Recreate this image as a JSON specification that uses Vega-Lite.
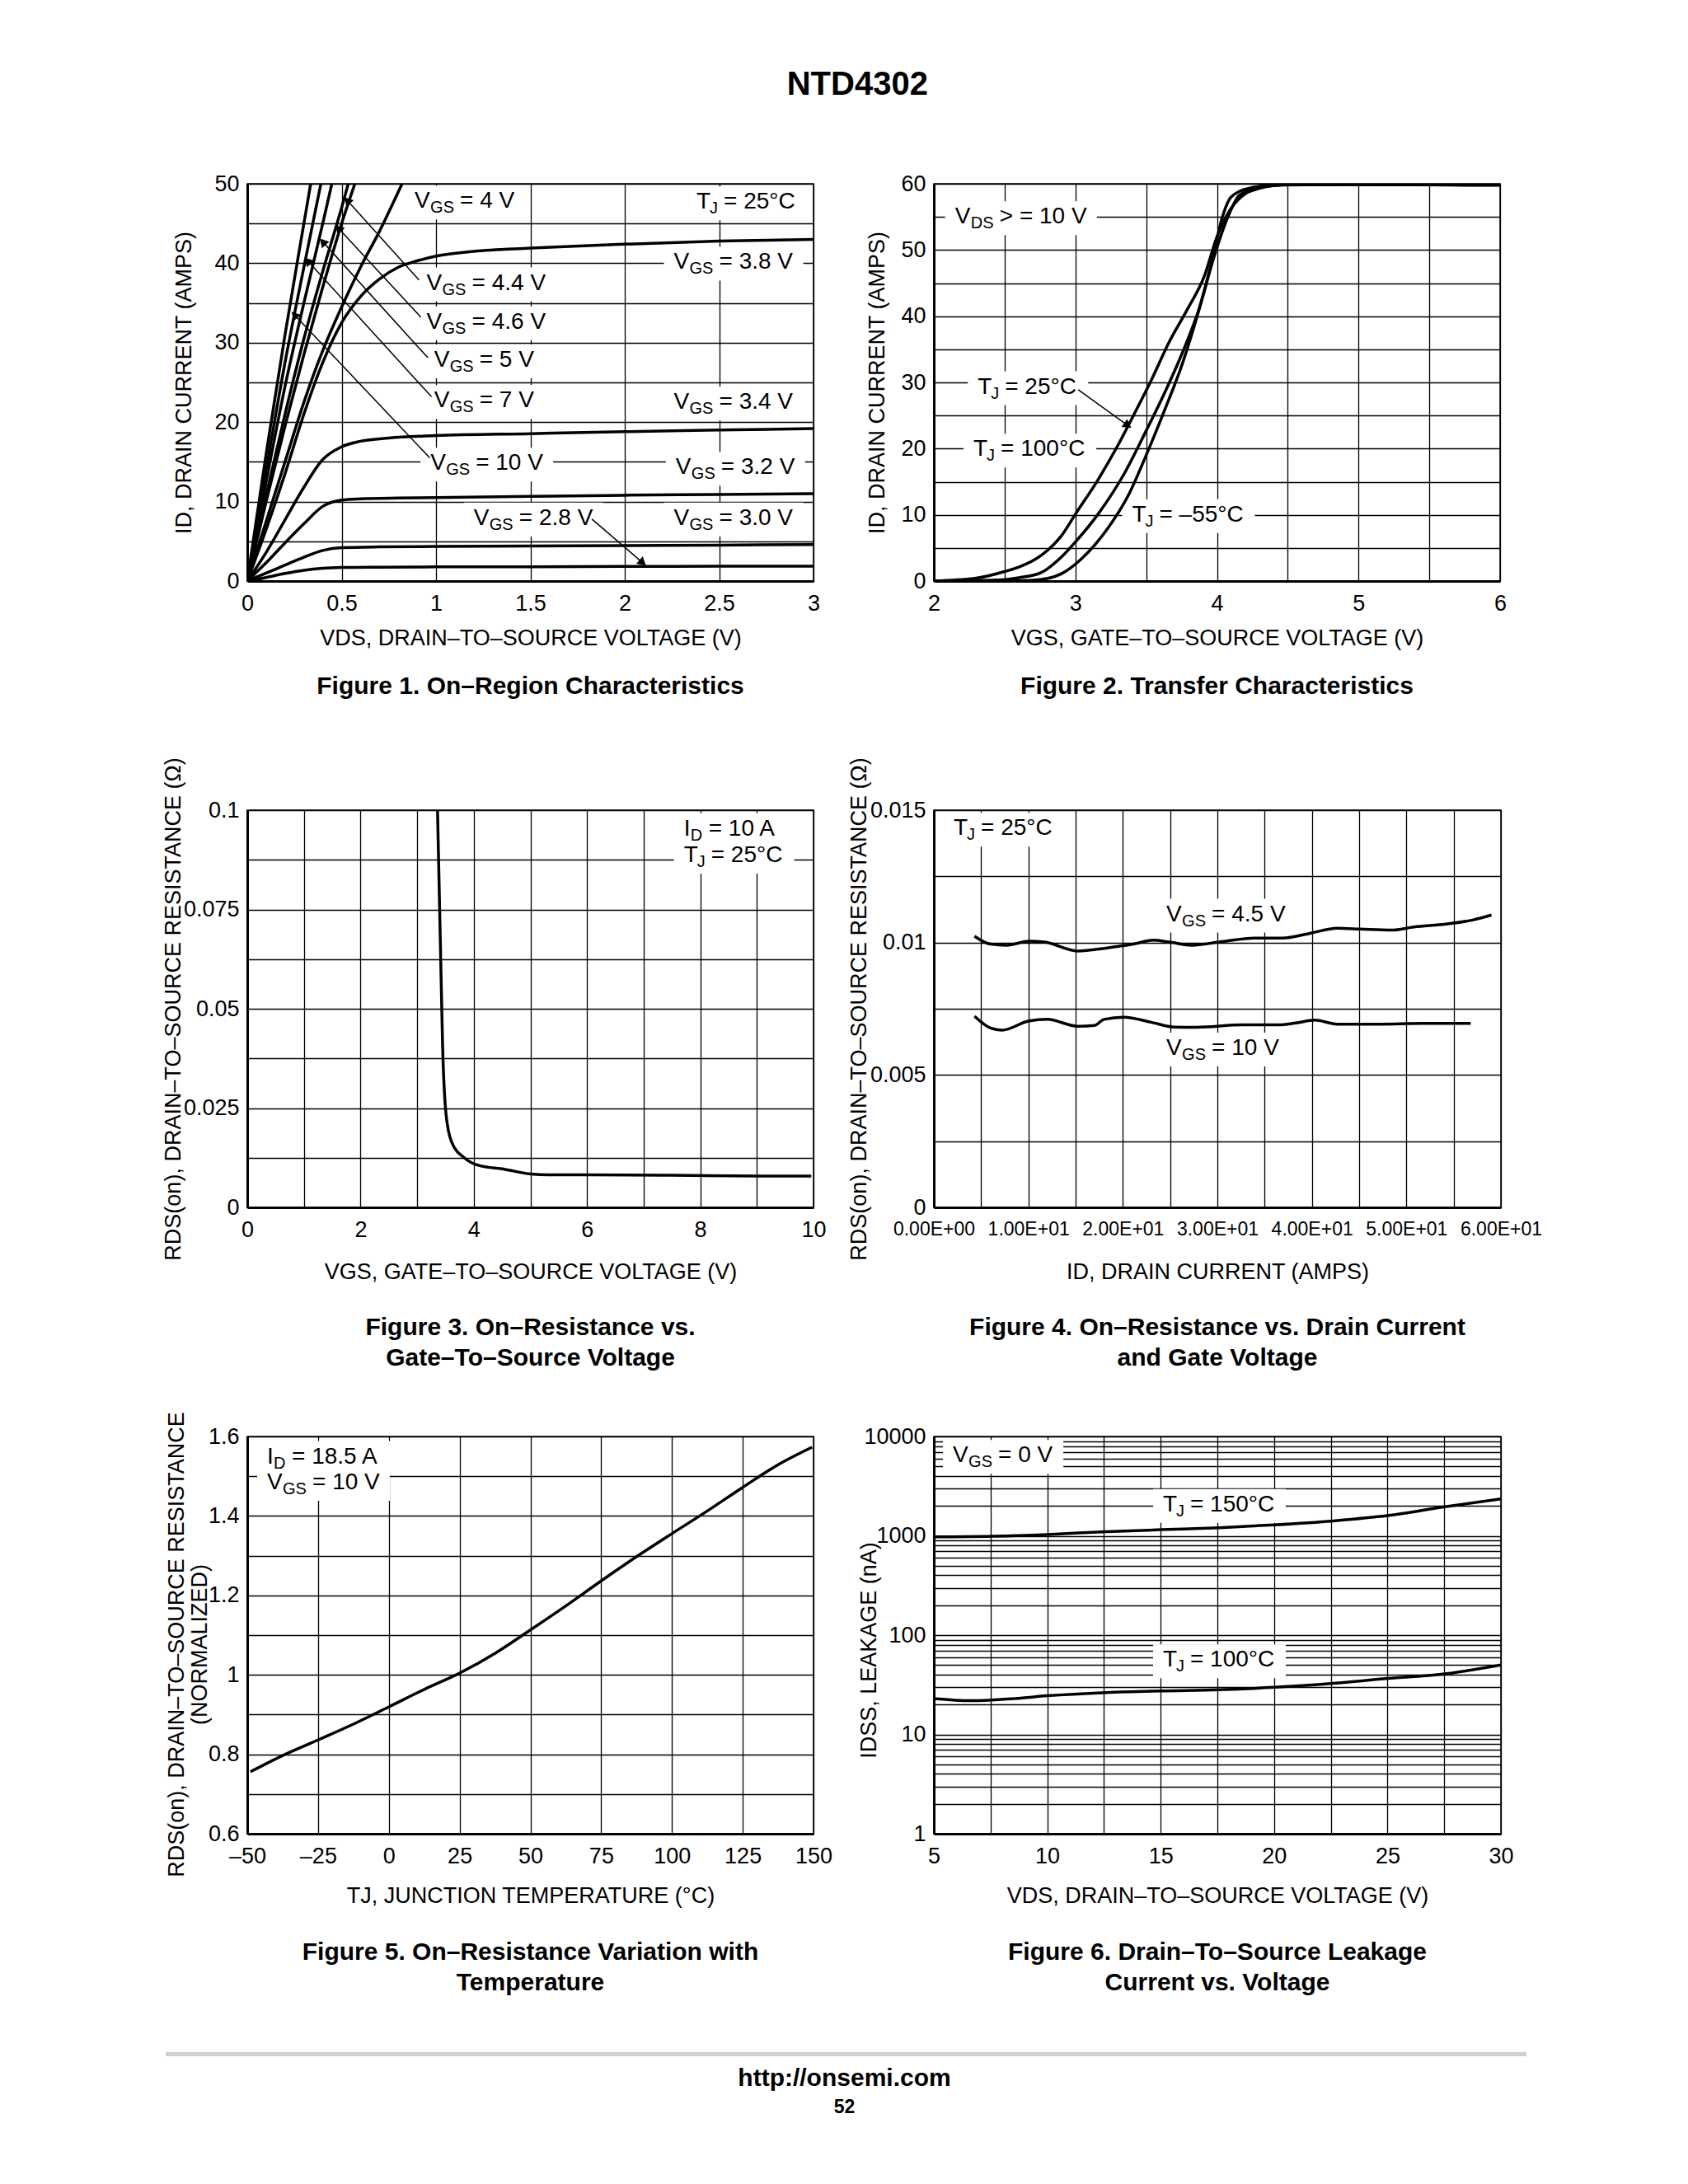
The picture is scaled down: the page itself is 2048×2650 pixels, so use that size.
{
"$schema":"https://vega.github.io/schema/vega-lite/v6.json",
"background":"white",
"padding":{"left":195,"top":83,"right":10,"bottom":10},
"title":{"text":"NTD4302","fontSize":40,"anchor":"middle","offset":85,"dx":7},
"spacing":68,
"datasets":{
"f1":[
{"s":"2.8","x":0,"y":0},{"s":"2.8","x":0.1,"y":0.45},{"s":"2.8","x":0.2,"y":0.95},{"s":"2.8","x":0.3,"y":1.35},{"s":"2.8","x":0.4,"y":1.6},{"s":"2.8","x":0.5,"y":1.7},{"s":"2.8","x":0.7,"y":1.75},{"s":"2.8","x":1,"y":1.78},{"s":"2.8","x":1.5,"y":1.8},{"s":"2.8","x":2,"y":1.83},{"s":"2.8","x":2.5,"y":1.86},{"s":"2.8","x":3,"y":1.88},
{"s":"3.0","x":0,"y":0},{"s":"3.0","x":0.1,"y":1.0},{"s":"3.0","x":0.2,"y":2.0},{"s":"3.0","x":0.3,"y":3.0},{"s":"3.0","x":0.4,"y":3.85},{"s":"3.0","x":0.5,"y":4.2},{"s":"3.0","x":0.7,"y":4.3},{"s":"3.0","x":1,"y":4.35},{"s":"3.0","x":1.5,"y":4.4},{"s":"3.0","x":2,"y":4.45},{"s":"3.0","x":2.5,"y":4.52},{"s":"3.0","x":3,"y":4.6},
{"s":"3.2","x":0,"y":0},{"s":"3.2","x":0.1,"y":2.3},{"s":"3.2","x":0.2,"y":4.8},{"s":"3.2","x":0.3,"y":7.2},{"s":"3.2","x":0.4,"y":9.4},{"s":"3.2","x":0.5,"y":10.2},{"s":"3.2","x":0.6,"y":10.35},{"s":"3.2","x":0.8,"y":10.45},{"s":"3.2","x":1,"y":10.5},{"s":"3.2","x":1.5,"y":10.65},{"s":"3.2","x":2,"y":10.8},{"s":"3.2","x":2.5,"y":10.9},{"s":"3.2","x":3,"y":11.0},
{"s":"3.4","x":0,"y":0},{"s":"3.4","x":0.1,"y":3.6},{"s":"3.4","x":0.2,"y":7.7},{"s":"3.4","x":0.3,"y":11.8},{"s":"3.4","x":0.4,"y":15.3},{"s":"3.4","x":0.5,"y":16.9},{"s":"3.4","x":0.6,"y":17.6},{"s":"3.4","x":0.75,"y":18.0},{"s":"3.4","x":1,"y":18.3},{"s":"3.4","x":1.5,"y":18.55},{"s":"3.4","x":2,"y":18.8},{"s":"3.4","x":2.5,"y":19.0},{"s":"3.4","x":3,"y":19.2},
{"s":"3.8","x":0,"y":0},{"s":"3.8","x":0.1,"y":6.5},{"s":"3.8","x":0.2,"y":13.5},{"s":"3.8","x":0.3,"y":21},{"s":"3.8","x":0.4,"y":27.5},{"s":"3.8","x":0.5,"y":32.5},{"s":"3.8","x":0.6,"y":35.8},{"s":"3.8","x":0.7,"y":38},{"s":"3.8","x":0.8,"y":39.5},{"s":"3.8","x":0.9,"y":40.3},{"s":"3.8","x":1,"y":40.9},{"s":"3.8","x":1.2,"y":41.5},{"s":"3.8","x":1.5,"y":41.9},{"s":"3.8","x":2,"y":42.4},{"s":"3.8","x":2.5,"y":42.8},{"s":"3.8","x":3,"y":43.0},
{"s":"4","x":0,"y":0},{"s":"4","x":0.1,"y":7.5},{"s":"4","x":0.2,"y":15},{"s":"4","x":0.3,"y":22.5},{"s":"4","x":0.4,"y":29},{"s":"4","x":0.5,"y":34.5},{"s":"4","x":0.6,"y":39.5},{"s":"4","x":0.7,"y":44},{"s":"4","x":0.82,"y":50},
{"s":"4.4","x":0,"y":0},{"s":"4.4","x":0.1,"y":10},{"s":"4.4","x":0.2,"y":19.5},{"s":"4.4","x":0.3,"y":28.5},{"s":"4.4","x":0.4,"y":37},{"s":"4.4","x":0.5,"y":45},{"s":"4.4","x":0.57,"y":50},
{"s":"4.6","x":0,"y":0},{"s":"4.6","x":0.1,"y":10.8},{"s":"4.6","x":0.2,"y":21},{"s":"4.6","x":0.3,"y":30.5},{"s":"4.6","x":0.4,"y":39},{"s":"4.6","x":0.5,"y":47},{"s":"4.6","x":0.535,"y":50},
{"s":"5","x":0,"y":0},{"s":"5","x":0.1,"y":12.5},{"s":"5","x":0.2,"y":24.5},{"s":"5","x":0.3,"y":35},{"s":"5","x":0.4,"y":45},{"s":"5","x":0.448,"y":50},
{"s":"7","x":0,"y":0},{"s":"7","x":0.1,"y":14},{"s":"7","x":0.2,"y":27.5},{"s":"7","x":0.3,"y":39.5},{"s":"7","x":0.39,"y":50},
{"s":"10","x":0,"y":0},{"s":"10","x":0.1,"y":16},{"s":"10","x":0.2,"y":31},{"s":"10","x":0.3,"y":45},{"s":"10","x":0.336,"y":50}
],
"f1lab":[
{"x":0.887,"y":47.8,"sym":"V","sub":"GS","rest":"= 4 V","full":"VGS = 4 V"},
{"x":2.38,"y":47.7,"sym":"T","sub":"J","rest":"= 25°C","full":"TJ = 25°C"},
{"x":2.26,"y":40.1,"sym":"V","sub":"GS","rest":"= 3.8 V","full":"VGS = 3.8 V"},
{"x":0.95,"y":37.5,"sym":"V","sub":"GS","rest":"= 4.4 V","full":"VGS = 4.4 V"},
{"x":0.95,"y":32.6,"sym":"V","sub":"GS","rest":"= 4.6 V","full":"VGS = 4.6 V"},
{"x":0.99,"y":27.8,"sym":"V","sub":"GS","rest":"= 5 V","full":"VGS = 5 V"},
{"x":0.99,"y":22.7,"sym":"V","sub":"GS","rest":"= 7 V","full":"VGS = 7 V"},
{"x":2.26,"y":22.5,"sym":"V","sub":"GS","rest":"= 3.4 V","full":"VGS = 3.4 V"},
{"x":0.97,"y":14.8,"sym":"V","sub":"GS","rest":"= 10 V","full":"VGS = 10 V"},
{"x":2.27,"y":14.3,"sym":"V","sub":"GS","rest":"= 3.2 V","full":"VGS = 3.2 V"},
{"x":1.2,"y":7.9,"sym":"V","sub":"GS","rest":"= 2.8 V","full":"VGS = 2.8 V"},
{"x":2.26,"y":7.9,"sym":"V","sub":"GS","rest":"= 3.0 V","full":"VGS = 3.0 V"}
],
"f1arr":[
{"n":"4.4","x":0.53,"y":47.9,"x2":0.91,"y2":37.9},
{"n":"4.6","x":0.483,"y":44.4,"x2":0.92,"y2":33.2},
{"n":"5","x":0.4,"y":42.7,"x2":0.957,"y2":28.1},
{"n":"7","x":0.32,"y":40.3,"x2":0.976,"y2":23.2},
{"n":"10","x":0.25,"y":33.5,"x2":0.967,"y2":15.5},
{"n":"2.8","x":2.095,"y":2.3,"x2":1.826,"y2":7.8}
],
"f2":[
{"s":"100","x":2,"y":0},{"s":"100","x":2.29,"y":0.4},{"s":"100","x":2.51,"y":1.5},{"s":"100","x":2.6,"y":2.1},{"s":"100","x":2.76,"y":3.9},{"s":"100","x":2.9,"y":6.8},{"s":"100","x":3.0,"y":10.1},{"s":"100","x":3.16,"y":15.3},{"s":"100","x":3.29,"y":20.1},{"s":"100","x":3.41,"y":25.0},{"s":"100","x":3.54,"y":30.5},{"s":"100","x":3.66,"y":36.0},{"s":"100","x":3.79,"y":41.0},{"s":"100","x":3.91,"y":46.0},{"s":"100","x":4.0,"y":52.0},{"s":"100","x":4.1,"y":56.3},{"s":"100","x":4.2,"y":58.5},{"s":"100","x":4.3,"y":59.3},{"s":"100","x":4.47,"y":59.8},{"s":"100","x":5,"y":59.9},{"s":"100","x":6,"y":59.8},
{"s":"25","x":2,"y":0},{"s":"25","x":2.45,"y":0.15},{"s":"25","x":2.6,"y":0.5},{"s":"25","x":2.76,"y":1.3},{"s":"25","x":2.9,"y":3.6},{"s":"25","x":3.0,"y":5.9},{"s":"25","x":3.16,"y":10.1},{"s":"25","x":3.35,"y":16.4},{"s":"25","x":3.5,"y":22.7},{"s":"25","x":3.63,"y":28.4},{"s":"25","x":3.76,"y":34.7},{"s":"25","x":3.88,"y":41.5},{"s":"25","x":3.97,"y":48.3},{"s":"25","x":4.07,"y":54.6},{"s":"25","x":4.16,"y":58.3},{"s":"25","x":4.32,"y":59.6},{"s":"25","x":4.63,"y":59.9},{"s":"25","x":6,"y":59.8},
{"s":"-55","x":2,"y":0},{"s":"-55","x":2.6,"y":0.05},{"s":"-55","x":2.76,"y":0.25},{"s":"-55","x":2.91,"y":1.2},{"s":"-55","x":3.04,"y":3.3},{"s":"-55","x":3.23,"y":8.0},{"s":"-55","x":3.38,"y":13.2},{"s":"-55","x":3.5,"y":19.0},{"s":"-55","x":3.63,"y":25.8},{"s":"-55","x":3.76,"y":33.1},{"s":"-55","x":3.88,"y":41.5},{"s":"-55","x":3.97,"y":48.8},{"s":"-55","x":4.04,"y":55.1},{"s":"-55","x":4.1,"y":58.0},{"s":"-55","x":4.22,"y":59.3},{"s":"-55","x":4.47,"y":59.9},{"s":"-55","x":6,"y":59.8}
],
"f2lab":[
{"x":2.15,"y":55,"sym":"V","sub":"DS","rest":"> = 10 V","full":"VDS > = 10 V"},
{"x":2.31,"y":29.3,"sym":"T","sub":"J","rest":"= 25°C","full":"TJ = 25°C"},
{"x":2.28,"y":19.9,"sym":"T","sub":"J","rest":"= 100°C","full":"TJ = 100°C"},
{"x":3.4,"y":10.0,"sym":"T","sub":"J","rest":"= –55°C","full":"TJ = –55°C"}
],
"f2arr":[{"n":"25","x":3.37,"y":23.5,"x2":3.02,"y2":28.9}],
"f3":[
{"x":3.36,"y":0.1},{"x":3.41,"y":0.0668},{"x":3.45,"y":0.0406},{"x":3.51,"y":0.0235},{"x":3.61,"y":0.0164},{"x":3.84,"y":0.0124},{"x":4.08,"y":0.0106},{"x":4.54,"y":0.0096},{"x":5.01,"y":0.0084},{"x":5.32,"y":0.0082},{"x":6.03,"y":0.0082},{"x":7.5,"y":0.0081},{"x":9.06,"y":0.0079},{"x":9.96,"y":0.0079}
],
"f3lab":[
{"x":7.71,"y":0.0953,"sym":"I","sub":"D","rest":"= 10 A","full":"ID = 10 A"},
{"x":7.71,"y":0.0886,"sym":"T","sub":"J","rest":"= 25°C","full":"TJ = 25°C"}
],
"f4":[
{"s":"4.5","x":4.3,"y":0.01024},{"s":"4.5","x":6.0,"y":0.00994},{"s":"4.5","x":7.7,"y":0.0099},{"s":"4.5","x":10.07,"y":0.01005},{"s":"4.5","x":11.7,"y":0.01002},{"s":"4.5","x":15.2,"y":0.00968},{"s":"4.5","x":18.2,"y":0.00979},{"s":"4.5","x":21.1,"y":0.00994},{"s":"4.5","x":23.2,"y":0.01009},{"s":"4.5","x":24.9,"y":0.01002},{"s":"4.5","x":27.3,"y":0.0099},{"s":"4.5","x":30.2,"y":0.01002},{"s":"4.5","x":34.0,"y":0.01017},{"s":"4.5","x":36.9,"y":0.01017},{"s":"4.5","x":39.8,"y":0.01035},{"s":"4.5","x":42.7,"y":0.01054},{"s":"4.5","x":45.1,"y":0.01051},{"s":"4.5","x":48.4,"y":0.01047},{"s":"4.5","x":50.8,"y":0.01059},{"s":"4.5","x":54.2,"y":0.0107},{"s":"4.5","x":57.0,"y":0.01085},{"s":"4.5","x":59.0,"y":0.01104},
{"s":"10","x":4.3,"y":0.00722},{"s":"10","x":6.0,"y":0.00677},{"s":"10","x":7.2,"y":0.00669},{"s":"10","x":10.07,"y":0.00704},{"s":"10","x":12.0,"y":0.0071},{"s":"10","x":15.2,"y":0.00684},{"s":"10","x":17.0,"y":0.00687},{"s":"10","x":18.0,"y":0.0071},{"s":"10","x":20.1,"y":0.00718},{"s":"10","x":23.0,"y":0.00699},{"s":"10","x":25.4,"y":0.00681},{"s":"10","x":27.8,"y":0.0068},{"s":"10","x":32.6,"y":0.00689},{"s":"10","x":36.4,"y":0.00689},{"s":"10","x":38.3,"y":0.00696},{"s":"10","x":40.3,"y":0.00707},{"s":"10","x":42.7,"y":0.00692},{"s":"10","x":47.0,"y":0.00692},{"s":"10","x":51.8,"y":0.00695},{"s":"10","x":56.8,"y":0.00695}
],
"f4lab":[
{"x":2.1,"y":0.01431,"sym":"T","sub":"J","rest":"= 25°C","full":"TJ = 25°C"},
{"x":24.6,"y":0.01106,"sym":"V","sub":"GS","rest":"= 4.5 V","full":"VGS = 4.5 V"},
{"x":24.6,"y":0.00601,"sym":"V","sub":"GS","rest":"= 10 V","full":"VGS = 10 V"}
],
"f5":[
{"x":-48.9,"y":0.756},{"x":-37.2,"y":0.798},{"x":-24.7,"y":0.837},{"x":-12.2,"y":0.877},{"x":0.2,"y":0.92},{"x":12.7,"y":0.964},{"x":25.2,"y":1.005},{"x":37.7,"y":1.055},{"x":50.2,"y":1.114},{"x":62.6,"y":1.174},{"x":75.1,"y":1.237},{"x":87.6,"y":1.298},{"x":100.1,"y":1.356},{"x":112.6,"y":1.413},{"x":125,"y":1.472},{"x":137.5,"y":1.529},{"x":149.5,"y":1.573}
],
"f5lab":[
{"x":-43,"y":1.549,"sym":"I","sub":"D","rest":"= 18.5 A","full":"ID = 18.5 A"},
{"x":-43,"y":1.484,"sym":"V","sub":"GS","rest":"= 10 V","full":"VGS = 10 V"}
],
"f6":[
{"s":"150","x":5,"y":975},{"s":"150","x":7.6,"y":990},{"s":"150","x":10,"y":1031},{"s":"150","x":12.6,"y":1100},{"s":"150","x":15,"y":1152},{"s":"150","x":17.6,"y":1207},{"s":"150","x":20,"y":1289},{"s":"150","x":22.6,"y":1413},{"s":"150","x":25,"y":1594},{"s":"150","x":27.6,"y":1972},{"s":"150","x":30,"y":2354},
{"s":"100","x":5,"y":23},{"s":"100","x":6.6,"y":21.9},{"s":"100","x":8.6,"y":23},{"s":"100","x":10,"y":24.5},{"s":"100","x":12.6,"y":26.4},{"s":"100","x":15,"y":27.4},{"s":"100","x":17.6,"y":28.2},{"s":"100","x":20,"y":29.8},{"s":"100","x":22.6,"y":32.7},{"s":"100","x":25,"y":36.6},{"s":"100","x":27.6,"y":40.9},{"s":"100","x":30,"y":50.1}
],
"f6lab":[
{"x":5.84,"y":6410,"sym":"V","sub":"GS","rest":"= 0 V","full":"VGS = 0 V"},
{"x":15.1,"y":2060,"sym":"T","sub":"J","rest":"= 150°C","full":"TJ = 150°C"},
{"x":15.1,"y":56,"sym":"T","sub":"J","rest":"= 100°C","full":"TJ = 100°C"}
]
},
"vconcat":[
{
"concat":[
{
"width":687,"height":482,
"title":{"text":"Figure 1. On–Region Characteristics","orient":"bottom","anchor":"middle","offset":31,"baseline":"top","lineHeight":37},
"encoding":{
"x":{"field":"x","type":"quantitative","scale":{"domain":[0,3],"nice":false,"zero":false},"axis":{"values":[0,0.5,1,1.5,2,2.5,3],"labelExpr":"'' + datum.value","title":"VDS, DRAIN–TO–SOURCE VOLTAGE (V)","titleY":69,"titleBaseline":"middle","labelPadding":14}},
"y":{"field":"y","type":"quantitative","scale":{"domain":[0,50],"nice":false,"zero":false},"axis":{"values":[0,5,10,15,20,25,30,35,40,45,50],"labelExpr":"datum.value % 10 === 0 ? '' + datum.value : ''","title":"ID, DRAIN CURRENT (AMPS)","titleX":-77,"titleBaseline":"middle"}}
},
"layer":[
{"data":{"name":"f1lab"},"transform":[{"filter":"length(datum.full) <= 9"}],"mark":{"type":"point","shape":"M-12,-19H134V22H-12Z","size":4,"filled":true,"color":"white","strokeWidth":0,"opacity":1},"encoding":{}},
{"data":{"name":"f1lab"},"transform":[{"filter":"length(datum.full) == 10"}],"mark":{"type":"point","shape":"M-12,-19H149V22H-12Z","size":4,"filled":true,"color":"white","strokeWidth":0,"opacity":1},"encoding":{}},
{"data":{"name":"f1lab"},"transform":[{"filter":"length(datum.full) == 11"}],"mark":{"type":"point","shape":"M-12,-19H157V22H-12Z","size":4,"filled":true,"color":"white","strokeWidth":0,"opacity":1},"encoding":{}},
{"data":{"name":"f1"},"mark":{"type":"line","interpolate":"monotone","clip":true,"strokeWidth":3.5,"color":"black"},"encoding":{"detail":{"field":"s"}}},
{"data":{"name":"f1arr"},"mark":{"type":"rule","strokeWidth":1.5,"color":"black"},"encoding":{"x2":{"field":"x2"},"y2":{"field":"y2"}}},
{"data":{"name":"f1arr"},"transform":[{"filter":"datum.n != '2.8'"}],"mark":{"type":"point","shape":"triangle-up","filled":true,"size":140,"angle":-42,"color":"black","opacity":1},"encoding":{}},
{"data":{"name":"f1arr"},"transform":[{"filter":"datum.n == '2.8'"}],"mark":{"type":"point","shape":"triangle-up","filled":true,"size":140,"angle":131,"color":"black","opacity":1},"encoding":{}},
{"data":{"name":"f1lab"},"mark":{"type":"text","align":"left","baseline":"middle","fontSize":28,"color":"black"},"encoding":{"text":{"field":"sym"}}},
{"data":{"name":"f1lab"},"transform":[{"filter":"datum.sym == 'V'"}],"mark":{"type":"text","align":"left","baseline":"middle","fontSize":20,"dx":19,"dy":8,"color":"black"},"encoding":{"text":{"field":"sub"}}},
{"data":{"name":"f1lab"},"transform":[{"filter":"datum.sym == 'V'"}],"mark":{"type":"text","align":"left","baseline":"middle","fontSize":28,"dx":55,"color":"black"},"encoding":{"text":{"field":"rest"}}},
{"data":{"name":"f1lab"},"transform":[{"filter":"datum.sym == 'T'"}],"mark":{"type":"text","align":"left","baseline":"middle","fontSize":20,"dx":16,"dy":8,"color":"black"},"encoding":{"text":{"field":"sub"}}},
{"data":{"name":"f1lab"},"transform":[{"filter":"datum.sym == 'T'"}],"mark":{"type":"text","align":"left","baseline":"middle","fontSize":28,"dx":33,"color":"black"},"encoding":{"text":{"field":"rest"}}}
]
},
{
"width":687,"height":482,
"title":{"text":"Figure 2. Transfer Characteristics","orient":"bottom","anchor":"middle","offset":31,"baseline":"top","lineHeight":37},
"encoding":{
"x":{"field":"x","type":"quantitative","scale":{"domain":[2,6],"nice":false,"zero":false},"axis":{"values":[2,2.5,3,3.5,4,4.5,5,5.5,6],"labelExpr":"datum.value % 1 === 0 ? '' + datum.value : ''","title":"VGS, GATE–TO–SOURCE VOLTAGE (V)","titleY":69,"titleBaseline":"middle","labelPadding":14}},
"y":{"field":"y","type":"quantitative","scale":{"domain":[0,60],"nice":false,"zero":false},"axis":{"values":[0,5,10,15,20,25,30,35,40,45,50,55,60],"labelExpr":"datum.value % 10 === 0 ? '' + datum.value : ''","title":"ID, DRAIN CURRENT (AMPS)","titleX":-69,"titleBaseline":"middle"}}
},
"layer":[
{"data":{"name":"f2lab"},"transform":[{"filter":"length(datum.full) <= 9"}],"mark":{"type":"point","shape":"M-12,-19H134V22H-12Z","size":4,"filled":true,"color":"white","strokeWidth":0,"opacity":1},"encoding":{}},
{"data":{"name":"f2lab"},"transform":[{"filter":"length(datum.full) == 10"}],"mark":{"type":"point","shape":"M-12,-19H149V22H-12Z","size":4,"filled":true,"color":"white","strokeWidth":0,"opacity":1},"encoding":{}},
{"data":{"name":"f2lab"},"transform":[{"filter":"length(datum.full) == 12"}],"mark":{"type":"point","shape":"M-12,-19H172V22H-12Z","size":4,"filled":true,"color":"white","strokeWidth":0,"opacity":1},"encoding":{}},
{"data":{"name":"f2"},"mark":{"type":"line","interpolate":"monotone","clip":true,"strokeWidth":3.5,"color":"black"},"encoding":{"detail":{"field":"s"}}},
{"data":{"name":"f2arr"},"mark":{"type":"rule","strokeWidth":1.5,"color":"black"},"encoding":{"x2":{"field":"x2"},"y2":{"field":"y2"}}},
{"data":{"name":"f2arr"},"mark":{"type":"point","shape":"triangle-up","filled":true,"size":140,"angle":125,"color":"black","opacity":1},"encoding":{}},
{"data":{"name":"f2lab"},"mark":{"type":"text","align":"left","baseline":"middle","fontSize":28,"color":"black"},"encoding":{"text":{"field":"sym"}}},
{"data":{"name":"f2lab"},"transform":[{"filter":"datum.sym == 'V'"}],"mark":{"type":"text","align":"left","baseline":"middle","fontSize":20,"dx":19,"dy":8,"color":"black"},"encoding":{"text":{"field":"sub"}}},
{"data":{"name":"f2lab"},"transform":[{"filter":"datum.sym == 'V'"}],"mark":{"type":"text","align":"left","baseline":"middle","fontSize":28,"dx":54,"color":"black"},"encoding":{"text":{"field":"rest"}}},
{"data":{"name":"f2lab"},"transform":[{"filter":"datum.sym == 'T'"}],"mark":{"type":"text","align":"left","baseline":"middle","fontSize":20,"dx":16,"dy":8,"color":"black"},"encoding":{"text":{"field":"sub"}}},
{"data":{"name":"f2lab"},"transform":[{"filter":"datum.sym == 'T'"}],"mark":{"type":"text","align":"left","baseline":"middle","fontSize":28,"dx":33,"color":"black"},"encoding":{"text":{"field":"rest"}}}
]
},
{
"width":687,"height":482,
"title":{"text":["Figure 3. On–Resistance vs.","Gate–To–Source Voltage"],"orient":"bottom","anchor":"middle","offset":40,"baseline":"top","lineHeight":37},
"encoding":{
"x":{"field":"x","type":"quantitative","scale":{"domain":[0,10],"nice":false,"zero":false},"axis":{"values":[0,1,2,3,4,5,6,7,8,9,10],"labelExpr":"datum.value % 2 === 0 ? '' + datum.value : ''","title":"VGS, GATE–TO–SOURCE VOLTAGE (V)","titleY":78,"titleBaseline":"middle","labelPadding":14}},
"y":{"field":"y","type":"quantitative","scale":{"domain":[0,0.1],"nice":false,"zero":false},"axis":{"values":[0,0.0125,0.025,0.0375,0.05,0.0625,0.075,0.0875,0.1],"labelExpr":"indexof([0,0.025,0.05,0.075,0.1], datum.value) >= 0 ? '' + datum.value : ''","title":"RDS(on), DRAIN–TO–SOURCE RESISTANCE (Ω)","titleX":-90,"titleBaseline":"middle"}}
},
"layer":[
{"data":{"name":"f3lab"},"mark":{"type":"point","shape":"M-12,-19H134V22H-12Z","size":4,"filled":true,"color":"white","strokeWidth":0,"opacity":1},"encoding":{}},
{"data":{"name":"f3"},"mark":{"type":"line","interpolate":"monotone","clip":true,"strokeWidth":3.5,"color":"black"},"encoding":{}},
{"data":{"name":"f3lab"},"mark":{"type":"text","align":"left","baseline":"middle","fontSize":28,"color":"black"},"encoding":{"text":{"field":"sym"}}},
{"data":{"name":"f3lab"},"transform":[{"filter":"datum.sym == 'I'"}],"mark":{"type":"text","align":"left","baseline":"middle","fontSize":20,"dx":8,"dy":8,"color":"black"},"encoding":{"text":{"field":"sub"}}},
{"data":{"name":"f3lab"},"transform":[{"filter":"datum.sym == 'I'"}],"mark":{"type":"text","align":"left","baseline":"middle","fontSize":28,"dx":30,"color":"black"},"encoding":{"text":{"field":"rest"}}},
{"data":{"name":"f3lab"},"transform":[{"filter":"datum.sym == 'T'"}],"mark":{"type":"text","align":"left","baseline":"middle","fontSize":20,"dx":16,"dy":8,"color":"black"},"encoding":{"text":{"field":"sub"}}},
{"data":{"name":"f3lab"},"transform":[{"filter":"datum.sym == 'T'"}],"mark":{"type":"text","align":"left","baseline":"middle","fontSize":28,"dx":33,"color":"black"},"encoding":{"text":{"field":"rest"}}}
]
},
{
"width":688,"height":482,
"title":{"text":["Figure 4. On–Resistance vs. Drain Current","and Gate Voltage"],"orient":"bottom","anchor":"middle","offset":40,"baseline":"top","lineHeight":37},
"encoding":{
"x":{"field":"x","type":"quantitative","scale":{"domain":[0,60],"nice":false,"zero":false},"axis":{"values":[0,5,10,15,20,25,30,35,40,45,50,55,60],"labelExpr":"datum.value % 10 === 0 ? (datum.value === 0 ? '0.00E+00' : format(datum.value / 10, '.2f') + 'E+01') : ''","labelFontSize":23,"labelPadding":15,"title":"ID, DRAIN CURRENT (AMPS)","titleY":78,"titleBaseline":"middle"}},
"y":{"field":"y","type":"quantitative","scale":{"domain":[0,0.015],"nice":false,"zero":false},"axis":{"values":[0,0.0025,0.005,0.0075,0.01,0.0125,0.015],"labelExpr":"indexof([0,0.005,0.01,0.015], datum.value) >= 0 ? '' + datum.value : ''","title":"RDS(on), DRAIN–TO–SOURCE RESISTANCE (Ω)","titleX":-91,"titleBaseline":"middle"}}
},
"layer":[
{"data":{"name":"f4lab"},"transform":[{"filter":"length(datum.full) <= 9"}],"mark":{"type":"point","shape":"M-12,-19H134V22H-12Z","size":4,"filled":true,"color":"white","strokeWidth":0,"opacity":1},"encoding":{}},
{"data":{"name":"f4lab"},"transform":[{"filter":"length(datum.full) == 10"}],"mark":{"type":"point","shape":"M-12,-19H149V22H-12Z","size":4,"filled":true,"color":"white","strokeWidth":0,"opacity":1},"encoding":{}},
{"data":{"name":"f4lab"},"transform":[{"filter":"length(datum.full) == 11"}],"mark":{"type":"point","shape":"M-12,-19H157V22H-12Z","size":4,"filled":true,"color":"white","strokeWidth":0,"opacity":1},"encoding":{}},
{"data":{"name":"f4"},"mark":{"type":"line","interpolate":"monotone","clip":true,"strokeWidth":3.5,"color":"black"},"encoding":{"detail":{"field":"s"}}},
{"data":{"name":"f4lab"},"mark":{"type":"text","align":"left","baseline":"middle","fontSize":28,"color":"black"},"encoding":{"text":{"field":"sym"}}},
{"data":{"name":"f4lab"},"transform":[{"filter":"datum.sym == 'V'"}],"mark":{"type":"text","align":"left","baseline":"middle","fontSize":20,"dx":19,"dy":8,"color":"black"},"encoding":{"text":{"field":"sub"}}},
{"data":{"name":"f4lab"},"transform":[{"filter":"datum.sym == 'V'"}],"mark":{"type":"text","align":"left","baseline":"middle","fontSize":28,"dx":55,"color":"black"},"encoding":{"text":{"field":"rest"}}},
{"data":{"name":"f4lab"},"transform":[{"filter":"datum.sym == 'T'"}],"mark":{"type":"text","align":"left","baseline":"middle","fontSize":20,"dx":16,"dy":8,"color":"black"},"encoding":{"text":{"field":"sub"}}},
{"data":{"name":"f4lab"},"transform":[{"filter":"datum.sym == 'T'"}],"mark":{"type":"text","align":"left","baseline":"middle","fontSize":28,"dx":33,"color":"black"},"encoding":{"text":{"field":"rest"}}}
]
},
{
"width":687,"height":482,
"title":{"text":["Figure 5. On–Resistance Variation with","Temperature"],"orient":"bottom","anchor":"middle","offset":41,"baseline":"top","lineHeight":37},
"encoding":{
"x":{"field":"x","type":"quantitative","scale":{"domain":[-50,150],"nice":false,"zero":false},"axis":{"values":[-50,-25,0,25,50,75,100,125,150],"labelExpr":"datum.value < 0 ? '–' + (-datum.value) : '' + datum.value","title":"TJ, JUNCTION TEMPERATURE (°C)","titleY":75,"titleBaseline":"middle","labelPadding":14}},
"y":{"field":"y","type":"quantitative","scale":{"domain":[0.6,1.6],"nice":false,"zero":false},"axis":{"values":[0.6,0.7,0.8,0.9,1,1.1,1.2,1.3,1.4,1.5,1.6],"labelExpr":"indexof([0.6,0.8,1,1.2,1.4,1.6], datum.value) >= 0 ? '' + datum.value : ''","title":["RDS(on), DRAIN–TO–SOURCE RESISTANCE","(NORMALIZED)"],"titleX":-86,"titleY":252,"titleBaseline":"middle","titleLineHeight":28}}
},
"layer":[
{"data":{"name":"f5lab"},"transform":[{"filter":"length(datum.full) == 10"}],"mark":{"type":"point","shape":"M-12,-19H149V22H-12Z","size":4,"filled":true,"color":"white","strokeWidth":0,"opacity":1},"encoding":{}},
{"data":{"name":"f5lab"},"transform":[{"filter":"length(datum.full) == 11"}],"mark":{"type":"point","shape":"M-12,-19H157V22H-12Z","size":4,"filled":true,"color":"white","strokeWidth":0,"opacity":1},"encoding":{}},
{"data":{"name":"f5"},"mark":{"type":"line","interpolate":"monotone","clip":true,"strokeWidth":3.5,"color":"black"},"encoding":{}},
{"data":{"name":"f5lab"},"mark":{"type":"text","align":"left","baseline":"middle","fontSize":28,"color":"black"},"encoding":{"text":{"field":"sym"}}},
{"data":{"name":"f5lab"},"transform":[{"filter":"datum.sym == 'I'"}],"mark":{"type":"text","align":"left","baseline":"middle","fontSize":20,"dx":8,"dy":8,"color":"black"},"encoding":{"text":{"field":"sub"}}},
{"data":{"name":"f5lab"},"transform":[{"filter":"datum.sym == 'I'"}],"mark":{"type":"text","align":"left","baseline":"middle","fontSize":28,"dx":30,"color":"black"},"encoding":{"text":{"field":"rest"}}},
{"data":{"name":"f5lab"},"transform":[{"filter":"datum.sym == 'V'"}],"mark":{"type":"text","align":"left","baseline":"middle","fontSize":20,"dx":19,"dy":8,"color":"black"},"encoding":{"text":{"field":"sub"}}},
{"data":{"name":"f5lab"},"transform":[{"filter":"datum.sym == 'V'"}],"mark":{"type":"text","align":"left","baseline":"middle","fontSize":28,"dx":55,"color":"black"},"encoding":{"text":{"field":"rest"}}}
]
},
{
"width":688,"height":482,
"title":{"text":["Figure 6. Drain–To–Source Leakage","Current vs. Voltage"],"orient":"bottom","anchor":"middle","offset":41,"baseline":"top","lineHeight":37},
"encoding":{
"x":{"field":"x","type":"quantitative","scale":{"domain":[5,30],"nice":false,"zero":false},"axis":{"values":[5,7.5,10,12.5,15,17.5,20,22.5,25,27.5,30],"labelExpr":"datum.value % 5 === 0 ? '' + datum.value : ''","title":"VDS, DRAIN–TO–SOURCE VOLTAGE (V)","titleY":75,"titleBaseline":"middle","labelPadding":14}},
"y":{"field":"y","type":"quantitative","scale":{"type":"log","domain":[1,10000],"nice":false},"axis":{"values":[1,2,3,4,5,6,7,8,9,10,20,30,40,50,60,70,80,90,100,200,300,400,500,600,700,800,900,1000,2000,3000,4000,5000,6000,7000,8000,9000,10000],"labelExpr":"indexof([1,10,100,1000,10000], datum.value) >= 0 ? '' + datum.value : ''","title":"IDSS, LEAKAGE (nA)","titleX":-79,"titleY":259,"titleBaseline":"middle"}}
},
"layer":[
{"data":{"name":"f6lab"},"transform":[{"filter":"length(datum.full) <= 9"}],"mark":{"type":"point","shape":"M-12,-19H134V22H-12Z","size":4,"filled":true,"color":"white","strokeWidth":0,"opacity":1},"encoding":{}},
{"data":{"name":"f6lab"},"transform":[{"filter":"length(datum.full) == 10"}],"mark":{"type":"point","shape":"M-12,-19H149V22H-12Z","size":4,"filled":true,"color":"white","strokeWidth":0,"opacity":1},"encoding":{}},
{"data":{"name":"f6"},"mark":{"type":"line","interpolate":"monotone","clip":true,"strokeWidth":3.5,"color":"black"},"encoding":{"detail":{"field":"s"}}},
{"data":{"name":"f6lab"},"mark":{"type":"text","align":"left","baseline":"middle","fontSize":28,"color":"black"},"encoding":{"text":{"field":"sym"}}},
{"data":{"name":"f6lab"},"transform":[{"filter":"datum.sym == 'V'"}],"mark":{"type":"text","align":"left","baseline":"middle","fontSize":20,"dx":19,"dy":8,"color":"black"},"encoding":{"text":{"field":"sub"}}},
{"data":{"name":"f6lab"},"transform":[{"filter":"datum.sym == 'V'"}],"mark":{"type":"text","align":"left","baseline":"middle","fontSize":28,"dx":55,"color":"black"},"encoding":{"text":{"field":"rest"}}},
{"data":{"name":"f6lab"},"transform":[{"filter":"datum.sym == 'T'"}],"mark":{"type":"text","align":"left","baseline":"middle","fontSize":20,"dx":16,"dy":8,"color":"black"},"encoding":{"text":{"field":"sub"}}},
{"data":{"name":"f6lab"},"transform":[{"filter":"datum.sym == 'T'"}],"mark":{"type":"text","align":"left","baseline":"middle","fontSize":28,"dx":33,"color":"black"},"encoding":{"text":{"field":"rest"}}}
]
}
],
"columns":2,
"bounds":"flush",
"spacing":{"row":278,"column":146}
},
{
"width":1449,"height":5,
"data":{"values":[{"a":0,"b":1}]},
"mark":{"type":"rect","color":"#cfcfcf"},
"encoding":{"x":{"field":"a","type":"quantitative","scale":{"domain":[0,1],"range":[-99,1552]},"axis":null},"x2":{"field":"b"}},
"view":{"stroke":null},
"title":{"text":"http://onsemi.com","subtitle":"52","orient":"bottom","anchor":"middle","fontSize":30,"subtitleFontSize":23,"subtitleFontWeight":"bold","subtitlePadding":9,"offset":12,"baseline":"top"}
}
],
"config":{
"font":"Liberation Sans",
"view":{"stroke":"#000","strokeWidth":1.5},
"axis":{"grid":true,"gridColor":"#000","gridWidth":1.3,"gridOpacity":1,"domain":true,"domainColor":"#000","domainWidth":3,"ticks":false,"labelFont":"Liberation Sans","labelFontSize":27,"labelColor":"#000","labelOverlap":false,"labelFlush":false,"labelBound":false,"labelPadding":10,"titleFont":"Liberation Sans","titleFontSize":27,"titleFontWeight":"normal","titleColor":"#000"},
"title":{"font":"Liberation Sans","fontWeight":"bold","fontSize":30,"color":"#000","subtitleFont":"Liberation Sans","subtitleColor":"#000"},
"text":{"font":"Liberation Sans","fontSize":28,"color":"#000"}
}
}
